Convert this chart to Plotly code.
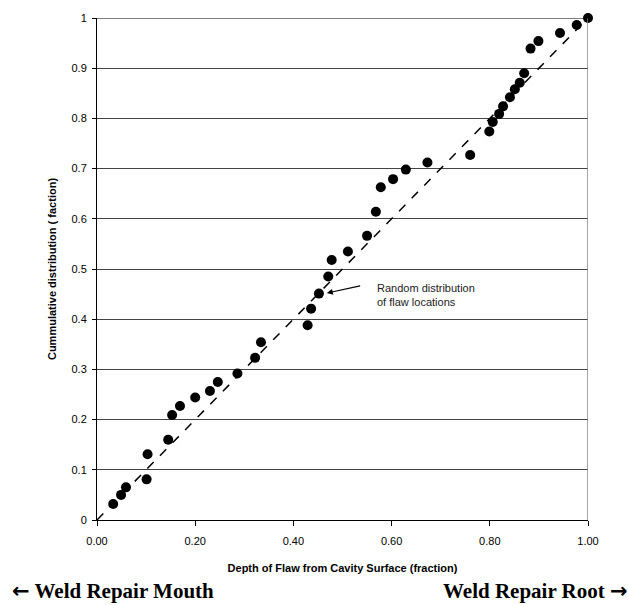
import plotly.graph_objects as go

# Normalised flaw depth vs. cumulative fraction of flaws
depth = [0.033, 0.049, 0.059, 0.101, 0.103, 0.145, 0.153, 0.169, 0.200, 0.230,
         0.246, 0.286, 0.322, 0.334, 0.429, 0.436, 0.452, 0.471, 0.478, 0.511,
         0.550, 0.568, 0.578, 0.603, 0.629, 0.673, 0.760, 0.799, 0.806, 0.819,
         0.827, 0.841, 0.851, 0.861, 0.870, 0.883, 0.899, 0.943, 0.977, 1.000]
cumulative = [0.032, 0.050, 0.065, 0.081, 0.131, 0.160, 0.209, 0.227, 0.244, 0.257,
              0.275, 0.292, 0.323, 0.354, 0.388, 0.421, 0.451, 0.485, 0.518, 0.535,
              0.566, 0.614, 0.663, 0.679, 0.698, 0.712, 0.727, 0.774, 0.793, 0.809,
              0.824, 0.842, 0.858, 0.871, 0.890, 0.939, 0.954, 0.970, 0.986, 1.000]

# Uniform (random) distribution reference line
uniform_x = [0.0, 1.0]
uniform_y = [0.0, 1.0]

x_ticks = [0.0, 0.2, 0.4, 0.6, 0.8, 1.0]
x_labels = ["0.00", "0.20", "0.40", "0.60", "0.80", "1.00"]
y_ticks = [0.0, 0.1, 0.2, 0.3, 0.4, 0.5, 0.6, 0.7, 0.8, 0.9, 1.0]
y_labels = ["0", "0.1", "0.2", "0.3", "0.4", "0.5", "0.6", "0.7", "0.8", "0.9", "1"]

font = "Liberation Sans, Arial, sans-serif"
serif = "Liberation Serif, Times New Roman, serif"
arrow_font = "font-family:DejaVu Sans"

# plot area in pixels, used to place the captions under the axis
PLOT_L, PLOT_R, PLOT_T, PLOT_B = 97, 588, 15, 520
pw, ph = PLOT_R - PLOT_L, PLOT_B - PLOT_T

fig = go.Figure()
fig.add_trace(go.Scatter(
    x=uniform_x, y=uniform_y, mode="lines",
    line=dict(color="black", width=1.5, dash="dash"),
    showlegend=False, hoverinfo="skip", cliponaxis=False))
fig.add_trace(go.Scatter(
    x=depth, y=cumulative, mode="markers",
    marker=dict(color="black", size=10),
    showlegend=False, cliponaxis=False))

fig.update_layout(
    width=628, height=605,
    margin=dict(l=PLOT_L, r=628 - PLOT_R, t=PLOT_T, b=605 - PLOT_B),
    paper_bgcolor="white", plot_bgcolor="white",
    font=dict(family=font, size=11, color="black"),
    xaxis=dict(
        range=[0, 1], tickvals=x_ticks, ticktext=x_labels,
        showgrid=False, zeroline=False,
        showline=True, linecolor="black", linewidth=1,
        ticks="outside", ticklen=5, tickcolor="black", ticklabelstandoff=6,
        title=dict(text="<b>Depth of Flaw from Cavity Surface (fraction)</b>",
                   font=dict(size=11), standoff=18),
    ),
    yaxis=dict(
        range=[0, 1], tickvals=y_ticks, ticktext=y_labels,
        showgrid=True, gridcolor="#444444", gridwidth=1, zeroline=False,
        showline=True, linecolor="black", linewidth=1,
        ticks="outside", ticklen=4, tickcolor="black", ticklabelstandoff=3,
        title=dict(text="<b>Cummulative distribution ( faction)</b>",
                   font=dict(size=11), standoff=12),
    ),
    shapes=[
        dict(type="line", xref="x", yref="y", x0=1, x1=1, y0=0, y1=1,
             line=dict(color="#888888", width=1.5)),
        dict(type="line", xref="x", yref="y", x0=0, x1=1, y0=1, y1=1,
             line=dict(color="black", width=1)),
    ],
    annotations=[
        dict(x=0.468, y=0.452, xref="x", yref="y",
             ax=0.539, ay=0.467, axref="x", ayref="y",
             text="", showarrow=True, arrowhead=2, arrowsize=1,
             arrowwidth=1.2, arrowcolor="black"),
        dict(x=0.566, y=0.448, xref="x", yref="y", xanchor="left",
             yanchor="middle", align="left", showarrow=False,
             text="Random distribution<br>of flaw locations",
             font=dict(size=11, color="#222222")),
        dict(x=(10 - PLOT_L) / pw, y=(PLOT_B - 591) / ph,
             xref="paper", yref="paper",
             xanchor="left", yanchor="middle", showarrow=False,
             text=f"<b><span style='{arrow_font}'>\u2190</span> Weld Repair Mouth</b>",
             font=dict(family=serif, size=21, color="black")),
        dict(x=(630 - PLOT_L) / pw, y=(PLOT_B - 591) / ph,
             xref="paper", yref="paper",
             xanchor="right", yanchor="middle", showarrow=False,
             text=f"<b>Weld Repair Root <span style='{arrow_font}'>\u2192</span></b>",
             font=dict(family=serif, size=21, color="black")),
    ],
)

fig.write_html("out.html")
